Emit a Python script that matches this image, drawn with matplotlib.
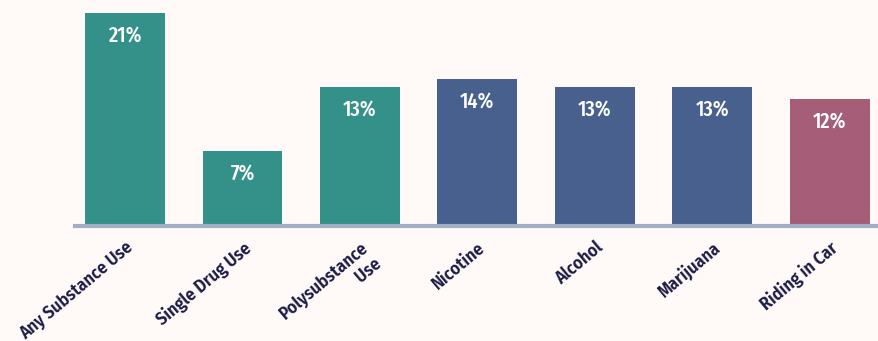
import matplotlib.pyplot as plt

categories = ['Any Substance Use', 'Single Drug Use', 'Polysubstance\nUse',
              'Nicotine', 'Alcohol', 'Marijuana', 'Riding in Car']
values = [21.3, 7.5, 13.9, 14.7, 13.9, 13.9, 12.7]
labels = ['21%', '7%', '13%', '14%', '13%', '13%', '12%']
colors = ['#33918a', '#33918a', '#33918a', '#48608e', '#48608e', '#48608e', '#a65e78']

plt.rcParams['font.family'] = ['Fira Sans Condensed', 'Archivo Narrow', 'DejaVu Sans']

bg = '#fffaf7'
fig = plt.figure(figsize=(8.79, 3.41), dpi=100, facecolor=bg)
ax = fig.add_axes([75 / 879, 1 - 226 / 341, 1 - 75 / 879, 226 / 341])
ax.set_facecolor(bg)

x = range(len(categories))
bars = ax.bar(x, values, width=0.68, color=colors, zorder=2)
ax.set_xlim(-0.426, 6.42)
ax.set_ylim(0, 22.6)

for b, lab in zip(bars, labels):
    ax.annotate(lab, (b.get_x() + b.get_width() / 2, b.get_height()),
                xytext=(0, -17), textcoords='offset points', ha='center', va='center',
                color='white', fontsize=16, fontweight='medium',
                family=['Fira Sans Extra Condensed', 'Fira Sans Condensed', 'DejaVu Sans'])

for s in ['top', 'right', 'left']:
    ax.spines[s].set_visible(False)
ax.spines['bottom'].set_color('#a3adc4')
ax.spines['bottom'].set_linewidth(3)
ax.spines['bottom'].set_zorder(3)
ax.set_yticks([])
ax.set_xticks(list(x))
ax.set_xticklabels(categories, rotation=40, ha='right', va='top',
                   rotation_mode='anchor', color='#1b1b45', fontsize=13,
                   fontweight='semibold', multialignment='right')
ax.tick_params(axis='x', length=0, pad=9)

fig.savefig('out.png', dpi=100, facecolor=bg)
